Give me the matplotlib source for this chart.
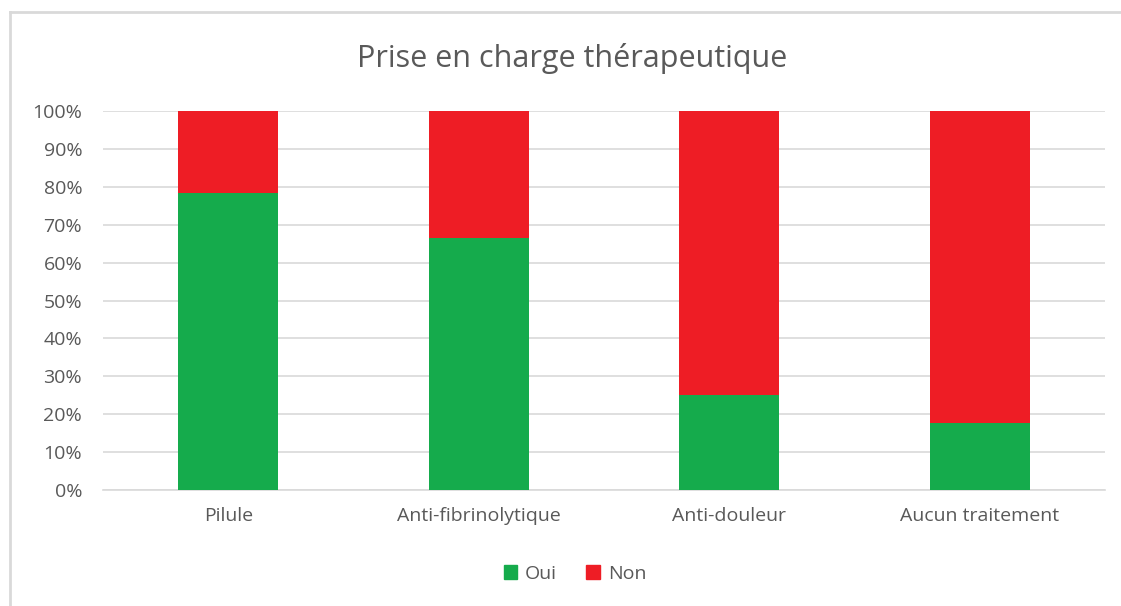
import matplotlib.pyplot as plt
from matplotlib.lines import Line2D
from matplotlib.patches import Patch

categories = ["Pilule", "Anti-fibrinolytique", "Anti-douleur", "Aucun traitement"]
oui = [78.3, 66.6, 25.1, 17.6]
non = [100 - v for v in oui]
yticks = [0, 10, 20, 30, 40, 50, 60, 70, 80, 90, 100]

green = "#15ab4c"
red = "#ee1d25"
text_color = "#595959"

plt.rcParams["font.family"] = ["Open Sans", "DejaVu Sans"]

fig = plt.figure(figsize=(11.21, 6.06), dpi=100)
ax = fig.add_axes([103 / 1121, 1 - 490 / 606, (1105 - 103) / 1121, (490 - 111) / 606])

x = range(len(categories))
ax.bar(x, oui, width=0.4, color=green, label="Oui", zorder=3)
ax.bar(x, non, width=0.4, bottom=oui, color=red, label="Non", zorder=3)

ax.set_xlim(-0.5, len(categories) - 0.5)
ax.set_ylim(0, 100)
ax.set_yticks(yticks)
ax.set_yticklabels([f"{t}%" for t in yticks])
ax.set_xticks(list(x))
ax.set_xticklabels(categories)
ax.tick_params(axis="both", length=0, labelsize=14, colors=text_color)
ax.tick_params(axis="y", pad=15)
ax.tick_params(axis="x", pad=12)

ax.yaxis.grid(True, color="#d9d9d9", linewidth=1.2, zorder=0)
for side in ["top", "right", "left"]:
    ax.spines[side].set_visible(False)
ax.spines["bottom"].set_color("#d9d9d9")
ax.spines["bottom"].set_linewidth(1.2)

fig.text(572 / 1121, 1 - 58 / 606, "Prise en charge thérapeutique",
         ha="center", va="center", fontsize=22, color=text_color)

handles = [Patch(color=green, label="Oui"), Patch(color=red, label="Non")]
fig.legend(handles=handles, loc="center", bbox_to_anchor=(575 / 1121, 1 - 574 / 606),
           ncol=2, frameon=False, fontsize=14, labelcolor=text_color,
           handlelength=0.7, handleheight=0.7, handletextpad=0.4, columnspacing=1.5)

# chart frame (only top and left edges visible in the reference)
fig.add_artist(Line2D([10 / 1121, 10 / 1121], [0, 1 - 12 / 606],
                      transform=fig.transFigure, color="#d9d9d9", linewidth=2))
fig.add_artist(Line2D([10 / 1121, 1], [1 - 12 / 606, 1 - 12 / 606],
                      transform=fig.transFigure, color="#d9d9d9", linewidth=2))

fig.savefig("out.png", dpi=100)
plt.close(fig)
